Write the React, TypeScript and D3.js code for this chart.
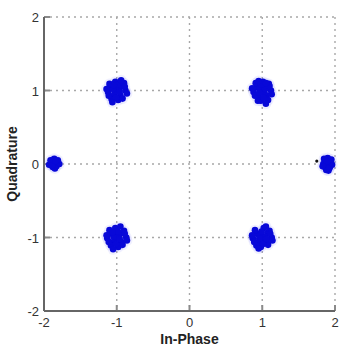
import React from "react";
import * as d3 from "d3";

const xTicks = [-2, -1, 0, 1, 2];
const yTicks = [-2, -1, 0, 1, 2];
const xLabel = "In-Phase";
const yLabel = "Quadrature";

const clusterA: [number, number][] = [[-1.00,1.00],[-1.08,1.04],[-0.93,1.06],[-1.05,0.92],[-0.95,0.93],[-1.12,0.98],[-0.88,1.00],[-1.02,1.12],[-0.98,0.87],[-1.10,1.09],[-0.90,1.10],[-1.07,0.88],[-0.92,0.89],[-1.14,1.02],[-0.86,0.96],[-1.03,0.96],[-0.97,1.03],[-1.05,1.02],[-0.99,1.08],[-1.01,0.90],[-0.94,1.14],[-1.06,0.84],[-0.89,1.05],[-1.11,0.93],[-1.04,1.07],[-0.96,0.98]];
const clusterB: [number, number][] = [[1.00,0.99],[0.93,1.04],[1.07,1.05],[0.95,0.92],[1.06,0.93],[0.88,0.98],[1.12,1.00],[1.01,1.12],[0.98,0.86],[0.91,1.10],[1.09,1.09],[0.94,0.86],[1.08,0.87],[0.86,1.03],[1.13,0.95],[1.03,0.96],[0.97,1.03],[1.04,1.02],[0.99,1.08],[1.02,0.90],[0.95,1.13],[1.05,0.82],[0.90,0.93],[1.10,1.06],[0.96,0.97],[1.05,1.10]];
const clusterC: [number, number][] = [[-1.00,-1.00],[-1.07,-0.95],[-0.94,-0.94],[-1.05,-1.07],[-0.94,-1.06],[-1.13,-1.01],[-0.87,-1.00],[-1.02,-0.87],[-0.98,-1.13],[-1.10,-0.90],[-0.90,-0.91],[-1.08,-1.11],[-0.92,-1.10],[-1.14,-0.97],[-0.86,-1.04],[-1.03,-1.03],[-0.97,-0.97],[-1.04,-0.99],[-0.99,-0.92],[-1.01,-1.09],[-0.95,-0.85],[-1.05,-1.16],[-0.89,-0.95],[-1.11,-1.06],[-0.96,-1.02],[-1.06,-0.93]];
const clusterD: [number, number][] = [[1.00,-1.00],[0.93,-0.95],[1.07,-0.94],[0.95,-1.07],[1.06,-1.06],[0.87,-1.01],[1.13,-1.00],[1.02,-0.87],[0.98,-1.13],[0.90,-0.90],[1.10,-0.91],[0.92,-1.11],[1.08,-1.10],[0.86,-0.97],[1.14,-1.04],[1.03,-1.03],[0.97,-0.97],[1.04,-0.99],[0.99,-0.92],[1.01,-1.09],[1.05,-0.85],[0.95,-1.15],[1.11,-0.95],[0.89,-1.06],[0.96,-1.01],[1.06,-1.02]];
const clusterE: [number, number][] = [[-1.86,0.00],[-1.90,0.03],[-1.82,0.02],[-1.88,-0.04],[-1.83,-0.03],[-1.93,-0.01],[-1.79,0.00],[-1.86,0.07],[-1.85,-0.06],[-1.91,0.05],[-1.81,0.05],[-1.89,-0.02],[-1.84,0.04]];
const clusterF: [number, number][] = [[1.90,0.00],[1.86,0.04],[1.94,0.03],[1.87,-0.05],[1.93,-0.04],[1.84,0.00],[1.96,-0.01],[1.90,0.08],[1.91,-0.09],[1.85,0.07],[1.95,0.06],[1.88,-0.08],[1.92,-0.06],[1.89,0.03],[1.83,-0.03]];
const outliers: [number, number][] = [[1.75, 0.04]];

const W = 344;
const H = 349;

export default function App() {
  const x = d3.scaleLinear().domain([-2, 2]).range([44, 335]);
  const y = d3.scaleLinear().domain([-2, 2]).range([311, 17]);
  const all = [...clusterA, ...clusterB, ...clusterC, ...clusterD, ...clusterE, ...clusterF];
  const fmt = (v: number) => String(v);
  return (
    <svg width={W} height={H} style={{ position: "absolute", left: 0, top: 0, background: "#fff" }}
      fontFamily="Arial, 'Liberation Sans', sans-serif">
      {xTicks.map((t) => (
        <line key={"gx" + t} x1={x(t)} x2={x(t)} y1={y(2)} y2={y(-2)} stroke="#a8a8a8" strokeWidth={1.4} strokeDasharray="2,4" />
      ))}
      {yTicks.map((t) => (
        <line key={"gy" + t} x1={x(-2)} x2={x(2)} y1={y(t)} y2={y(t)} stroke="#a8a8a8" strokeWidth={1.4} strokeDasharray="2,4" />
      ))}
      {xTicks.map((t) => (
        <line key={"tx" + t} x1={x(t)} x2={x(t)} y1={y(-2)} y2={y(-2) - 6} stroke="#8a8a8a" strokeWidth={2} />
      ))}
      {yTicks.map((t) => (
        <line key={"ty" + t} x1={x(-2)} x2={x(-2) + 6} y1={y(t)} y2={y(t)} stroke="#8a8a8a" strokeWidth={2} />
      ))}
      <line x1={x(-2)} x2={x(-2)} y1={y(2)} y2={y(-2)} stroke="#666" strokeWidth={2} />
      <line x1={x(-2)} x2={x(2)} y1={y(-2)} y2={y(-2)} stroke="#666" strokeWidth={2} />
      {all.map((p, i) => (
        <circle key={"h" + i} cx={x(p[0])} cy={y(p[1])} r={5.5} fill="#6a6aff" opacity={0.1} />
      ))}
      {all.map((p, i) => (
        <circle key={"p" + i} cx={x(p[0])} cy={y(p[1])} r={3.3} fill="#0808d8" />
      ))}
      {outliers.map((p, i) => (
        <circle key={"o" + i} cx={x(p[0])} cy={y(p[1])} r={1.6} fill="#111" />
      ))}
      {xTicks.map((t) => (
        <text key={"lx" + t} x={x(t)} y={y(-2) + 16} textAnchor="middle" fontSize={13} fill="#333">{fmt(t)}</text>
      ))}
      {yTicks.map((t) => (
        <text key={"ly" + t} x={x(-2) - 5} y={y(t) + 5} textAnchor="end" fontSize={13} fill="#333">{fmt(t)}</text>
      ))}
      <text x={x(0)} y={344} textAnchor="middle" fontSize={14} fontWeight="bold" fill="#222">{xLabel}</text>
      <text transform={`translate(17,${y(0)}) rotate(-90)`} textAnchor="middle" fontSize={14} fontWeight="bold" fill="#222">{yLabel}</text>
    </svg>
  );
}
